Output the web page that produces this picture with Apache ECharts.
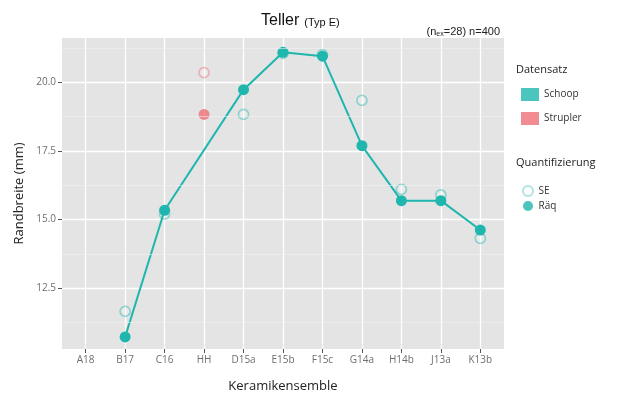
<!DOCTYPE html>
<html>
<head>
<meta charset="utf-8">
<script src="https://cdn.jsdelivr.net/npm/echarts@6/dist/echarts.min.js"></script>
<style>
  html, body { margin: 0; padding: 0; background: #ffffff; }
  #chart { width: 625px; height: 398px; }
</style>
</head>
<body>
<div id="chart"></div>
<script>
// Rim width (mm) per ceramic ensemble
const categories = ['A18', 'B17', 'C16', 'HH', 'D15a', 'E15b', 'F15c', 'G14a', 'H14b', 'J13a', 'K13b'];
const schoopRaq   = [null, 10.73, 15.34, null, 19.73, 21.09, 20.95, 17.69, 15.69, 15.69, 14.62];
const schoopSE    = [null, 11.66, 15.20, null, 18.83, 21.05, 21.00, 19.34, 16.10, 15.90, 14.32];
const struplerRaq = [null, null, null, 18.83, null, null, null, null, null, null, null];
const struplerSE  = [null, null, null, 20.35, null, null, null, null, null, null, null];
const yTicks = [12.5, 15.0, 17.5, 20.0];
const yMinorTicks = [11.25, 13.75, 16.25, 18.75, 21.25];

const TEAL = '#1fb6ae';
const RED = '#ee6f78';
const TEAL_RING = 'rgba(31,182,174,0.55)';
const RED_RING = 'rgba(238,111,120,0.55)';
const LABEL_FONT = 'Open Sans';

// category positions 1..n on a value axis, padded like a discrete scale
const xPositions = categories.map((c, i) => i + 1);
const toPoints = arr => arr.map((v, i) => (v == null ? null : [i + 1, v])).filter(Boolean);

const chart = echarts.init(document.getElementById('chart'), null, { renderer: 'canvas' });

const hollow = (ring) => ({ color: 'rgba(255,255,255,0.25)', borderColor: ring, borderWidth: 1.8 });

chart.setOption({
  animation: false,
  backgroundColor: '#ffffff',
  title: [
    {
      text: '{a|Teller} {b|(Typ E)}',
      left: 256,
      top: 7,
      textStyle: {
        fontWeight: 'normal',
        rich: {
          a: { fontSize: 16, color: '#111', fontWeight: 'normal', fontFamily: 'Liberation Sans' },
          b: { fontSize: 11, color: '#111', fontWeight: 'normal', fontFamily: 'Liberation Sans', padding: [3, 0, 0, 0] }
        }
      }
    },
    {
      text: '{t|(n}{s|ex}{t|=28) n=400}',
      right: 120,
      top: 21,
      textStyle: {
        fontWeight: 'normal',
        rich: {
          t: { fontSize: 11, color: '#222', fontWeight: 'normal', fontFamily: 'Liberation Sans' },
          s: { fontSize: 7, color: '#222', fontWeight: 'normal', fontFamily: 'Liberation Sans', padding: [5, 0, 0, 0] }
        }
      }
    }
  ],
  grid: {
    left: 62, right: 121, top: 38, bottom: 43,
    show: true, backgroundColor: '#e4e4e4', borderWidth: 0
  },
  xAxis: {
    type: 'value',
    min: 0.4,
    max: 11.6,
    name: 'Keramikensemble',
    nameLocation: 'middle',
    nameGap: 31,
    nameTextStyle: { fontSize: 13, color: '#222', fontFamily: LABEL_FONT },
    axisLine: { show: false },
    axisTick: { show: true, length: 4, lineStyle: { color: '#555' }, customValues: xPositions },
    axisLabel: {
      customValues: xPositions,
      formatter: v => categories[Math.round(v) - 1],
      fontSize: 10, color: '#6e6e6e', fontFamily: LABEL_FONT, margin: 6
    },
    splitLine: { show: true, lineStyle: { color: '#ffffff', width: 1.3 } }
  },
  yAxis: {
    type: 'value',
    min: 10.29,
    max: 21.61,
    name: 'Randbreite (mm)',
    nameLocation: 'middle',
    nameGap: 34,
    nameTextStyle: { fontSize: 13, color: '#222', fontFamily: LABEL_FONT },
    axisLine: { show: false },
    axisTick: { show: true, length: 4, lineStyle: { color: '#555' }, customValues: yTicks },
    axisLabel: {
      customValues: yTicks,
      formatter: v => v.toFixed(1),
      fontSize: 10, color: '#6e6e6e', fontFamily: LABEL_FONT, margin: 6
    },
    splitLine: { show: true, lineStyle: { color: '#ffffff', width: 1.3 } }
  },
  legend: [
    {
      orient: 'vertical',
      left: 516, top: 83,
      icon: 'rect',
      itemWidth: 18, itemHeight: 13, itemGap: 11,
      selectedMode: false,
      textStyle: { fontSize: 10, color: '#333', fontFamily: LABEL_FONT },
      data: ['Schoop', 'Strupler']
    },
    {
      orient: 'vertical',
      left: 517, top: 180,
      icon: 'circle',
      itemWidth: 11, itemHeight: 10, itemGap: 4,
      selectedMode: false,
      textStyle: { fontSize: 10, color: '#333', fontFamily: LABEL_FONT },
      data: ['SE', 'Räq']
    }
  ],
  graphic: [
    { type: 'text', left: 516, top: 64, style: { text: 'Datensatz', fontSize: 11, fill: '#222', fontFamily: LABEL_FONT } },
    { type: 'text', left: 516, top: 157, style: { text: 'Quantifizierung', fontSize: 11, fill: '#222', fontFamily: LABEL_FONT } }
  ],
  series: [
    // minor horizontal grid lines
    {
      name: 'minor grid', type: 'line', data: [], silent: true, z: 1,
      markLine: {
        silent: true, symbol: 'none', animation: false,
        label: { show: false },
        lineStyle: { color: '#f1f1f1', width: 0.6, type: 'solid' },
        data: yMinorTicks.map(v => ({ yAxis: v }))
      }
    },
    // legend entries
    { name: 'Schoop', type: 'scatter', data: [], itemStyle: { color: TEAL } },
    { name: 'Strupler', type: 'scatter', data: [], itemStyle: { color: RED } },
    { name: 'SE', type: 'scatter', data: [], itemStyle: { color: '#ffffff', borderColor: '#9fdcd8', borderWidth: 1.2 } },
    { name: 'Räq', type: 'scatter', data: [], itemStyle: { color: TEAL } },
    // data
    {
      name: 'Schoop SE', type: 'scatter', z: 3,
      symbol: 'circle', symbolSize: 10,
      itemStyle: hollow(TEAL_RING),
      data: toPoints(schoopSE)
    },
    {
      name: 'Strupler SE', type: 'scatter', z: 3,
      symbol: 'circle', symbolSize: 10,
      itemStyle: hollow(RED_RING),
      data: toPoints(struplerSE)
    },
    {
      name: 'Schoop Räq', type: 'line', z: 4,
      symbol: 'circle', symbolSize: 11, showAllSymbol: true,
      lineStyle: { color: TEAL, width: 2 },
      itemStyle: { color: TEAL },
      data: toPoints(schoopRaq)
    },
    {
      name: 'Strupler Räq', type: 'scatter', z: 4,
      symbol: 'circle', symbolSize: 11,
      itemStyle: { color: RED },
      data: toPoints(struplerRaq)
    }
  ]
});
</script>
</body>
</html>
